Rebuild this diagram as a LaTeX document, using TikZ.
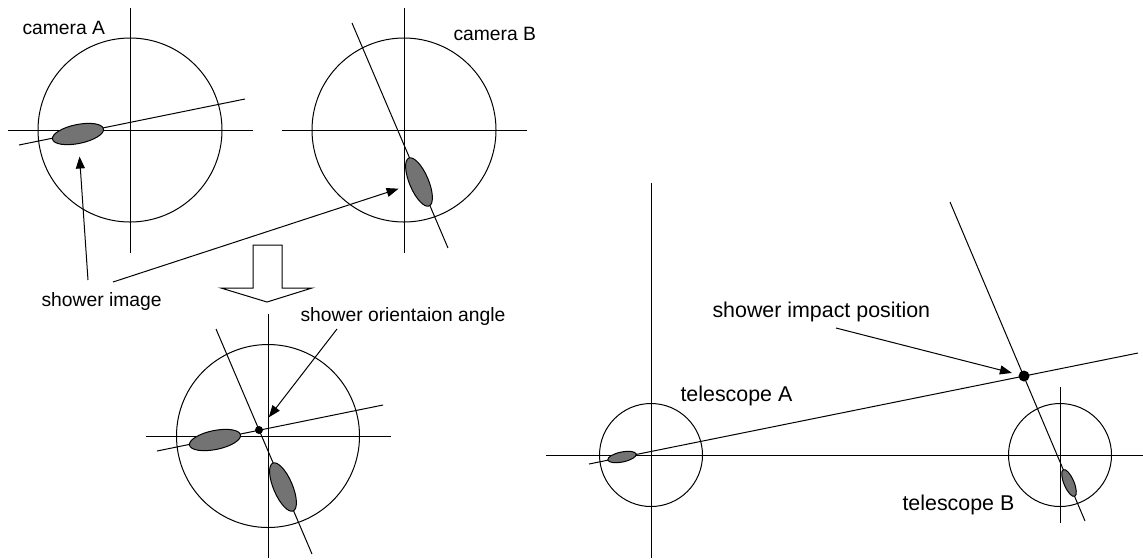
\documentclass[tikz,border=0pt]{standalone}
\usepackage{fontspec}
\setmainfont{Liberation Sans}
\usetikzlibrary{arrows.meta,shapes.geometric}

\definecolor{imgfill}{RGB}{115,115,115}

\begin{document}
\begin{tikzpicture}[
    x=0.5pt, y=-0.5pt,
    line width=0.5pt,
    small/.style={font=\fontsize{9.65}{11}\selectfont, inner sep=0pt, anchor=base west},
    big/.style={font=\fontsize{10.7}{12}\selectfont, inner sep=0pt, anchor=base west},
    shower/.style={draw, ellipse, fill=imgfill, inner sep=0pt, outer sep=0pt,
                   minimum width=26pt, minimum height=9.5pt},
    tiny/.style={draw, ellipse, fill=imgfill, inner sep=0pt, outer sep=0pt,
                 minimum width=14.5pt, minimum height=5pt},
    spot/.style={circle, fill=black, inner sep=0pt, outer sep=0pt},
    arrow/.style={-{Triangle[length=6pt,width=4.5pt]}}
]
\useasboundingbox (0,0) rectangle (1143,559);

% --- camera A ---
\coordinate (camA) at (130,130);
\draw (camA) circle (92);
\draw (camA) ++(-122,0) -- ++(245,0);
\draw (camA) ++(0,-122) -- ++(0,245);
\draw (19,145) -- (245,99);
\node[shower, rotate=11.5] (imgA) at (78,134) {};
\node[small] (labA) at (22,34) {camera A};

% --- camera B ---
\coordinate (camB) at (404,130);
\draw (camB) circle (92);
\draw (camB) ++(-122,0) -- ++(245,0);
\draw (camB) ++(0,-122) -- ++(0,245);
\draw (352,23) -- (448,248);
\node[shower, rotate=-67] (imgB) at (419,182) {};
\node[small] (labB) at (453,40) {camera B};

% shower image labels
\node[small] (labImg) at (41,306) {shower image};
\coordinate (tailA) at (88,280);
\coordinate (tailB) at (113,282);
\draw[arrow, shorten >=6.5pt] (tailA) -- (imgA);
\draw[arrow, shorten >=6pt] (tailB) -- (imgB);

% hollow down arrow
\draw[fill=white] (253,245) -- (282,245) -- (282,288) -- (312,288)
    -- (267,302) -- (221,288) -- (253,288) -- cycle;

% --- combined camera ---
\coordinate (camC) at (268,436);
\draw (camC) circle (91.5);
\draw (camC) ++(-122,0) -- ++(245,0);
\draw (camC) ++(0,-122) -- ++(0,244);
\draw (157,451) -- (383,405);
\draw (216,329) -- (312,554);
\node[shower, rotate=11.5] (imgCA) at (215,440) {};
\node[shower, rotate=-67] (imgCB) at (283,487) {};
\node[spot, minimum size=4pt] (orig) at (259,430) {};
\node[small] (labOrient) at (300,321) {shower orientaion angle};
\coordinate (tailO) at (337,329);
\draw[arrow, shorten >=6pt] (tailO) -- (orig);

% --- telescopes ---
\coordinate (telA) at (651,455);
\coordinate (telB) at (1060,455);
\draw (telA) circle (51.5);
\draw (telB) circle (51.5);
\draw (546,455) -- (1143,455);
\draw (telA) ++(0,-272) -- ++(0,375);
\draw (telB) ++(0,-68) -- ++(0,136);
\draw (589,464) -- (1138,353);
\draw (950,202) -- (1085,521);
\node[tiny, rotate=11.5] (imgTA) at (622,457) {};
\node[tiny, rotate=-67] (imgTB) at (1069,483) {};
\node[spot, minimum size=5.5pt] (impact) at (1024,376) {};
\node[big] (labTA) at (680,401) {telescope A};
\node[big] (labTB) at (902,510) {telescope B};
\node[big] (labImpact) at (712,317) {shower impact position};
\coordinate (tailI) at (836,328);
\draw[arrow, shorten >=3.5pt] (tailI) -- (impact);

\end{tikzpicture}
\end{document}
